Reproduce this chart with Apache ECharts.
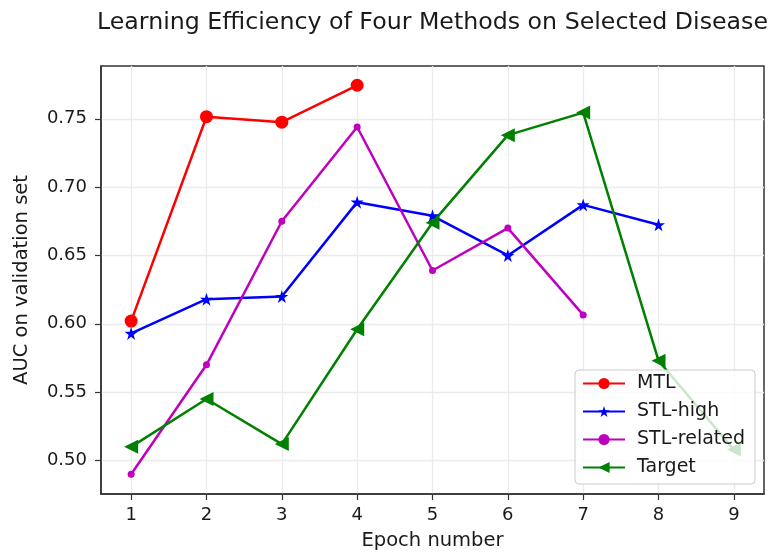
<!DOCTYPE html>
<html>
<head>
<meta charset="utf-8">
<script src="https://cdn.jsdelivr.net/npm/echarts@6/dist/echarts.min.js"></script>
<style>
  html, body { margin: 0; padding: 0; background: #fff; }
  #chart { width: 770px; height: 556px; }
</style>
</head>
<body>
<div id="chart"></div>
<script>
// data
var epochs = [1, 2, 3, 4, 5, 6, 7, 8, 9];
var mtl = [0.602, 0.7515, 0.7475, 0.7745];
var stlHigh = [0.593, 0.618, 0.620, 0.689, 0.679, 0.650, 0.687, 0.6725];
var stlRelated = [0.490, 0.570, 0.675, 0.744, 0.639, 0.670, 0.6065];
var target = [0.510, 0.545, 0.512, 0.596, 0.674, 0.738, 0.7545, 0.573, 0.508];
var xTicks = [1, 2, 3, 4, 5, 6, 7, 8, 9];
var yTicks = [0.50, 0.55, 0.60, 0.65, 0.70, 0.75];

var starPath = 'path://M50 0 L61.2 34.5 L97.6 34.5 L68.2 55.9 L79.4 90.5 L50 69.1 L20.6 90.5 L31.8 55.9 L2.4 34.5 L38.8 34.5 Z';
var font = 'DejaVu Sans';

function pairs(vals) {
  return vals.map(function (v, i) { return [epochs[i], v]; });
}

function lineSeries(name, vals, color, symbol, size, rotate) {
  return {
    name: name,
    type: 'line',
    data: pairs(vals),
    symbol: symbol,
    symbolSize: size,
    symbolRotate: rotate || 0,
    showAllSymbol: true,
    lineStyle: { color: color, width: 2.5 },
    itemStyle: { color: color },
    emphasis: { disabled: true },
    animation: false
  };
}

var chart = echarts.init(document.getElementById('chart'));
chart.setOption({
  backgroundColor: '#fff',
  animation: false,
  title: {
    text: 'Learning Efficiency of Four Methods on Selected Disease',
    left: 92,
    top: 6,
    textStyle: { fontFamily: font, fontSize: 23.7, fontWeight: 'normal', color: '#1a1a1a' }
  },
  grid: {
    left: 101, right: 6, top: 66, bottom: 60,
    show: true, borderColor: '#333', borderWidth: 1.5, backgroundColor: '#fff'
  },
  legend: {
    right: 15,
    bottom: 72,
    orient: 'vertical',
    itemGap: 9,
    itemWidth: 42,
    itemHeight: 14,
    padding: [4, 10, 7, 7],
    backgroundColor: 'rgba(255,255,255,0.8)',
    borderColor: '#ccc',
    borderWidth: 1,
    borderRadius: 4,
    textStyle: { fontFamily: font, fontSize: 19, color: '#1a1a1a', padding: [0, 0, 0, 7] },
    data: ['MTL', 'STL-high', 'STL-related', 'Target']
  },
  xAxis: {
    type: 'value',
    min: 0.6,
    max: 9.4,
    name: 'Epoch number',
    nameLocation: 'middle',
    nameGap: 37,
    nameTextStyle: { fontFamily: font, fontSize: 19.5, color: '#1a1a1a' },
    axisLine: { show: true, lineStyle: { color: '#333', width: 1.5 } },
    axisTick: { show: true, inside: false, length: 6, customValues: xTicks, lineStyle: { color: '#333', width: 1.2 } },
    axisLabel: { customValues: xTicks, fontFamily: font, fontSize: 18, color: '#1a1a1a', margin: 12 },
    splitLine: { show: true, lineStyle: { color: '#ebebeb', width: 1.3 } }
  },
  yAxis: {
    type: 'value',
    min: 0.4755,
    max: 0.7886,
    name: 'AUC on validation set',
    nameLocation: 'middle',
    nameGap: 69,
    nameTextStyle: { fontFamily: font, fontSize: 19.5, color: '#1a1a1a' },
    axisLine: { show: true, lineStyle: { color: '#333', width: 1.5 } },
    axisTick: { show: true, inside: false, length: 6, customValues: yTicks, lineStyle: { color: '#333', width: 1.2 } },
    axisLabel: {
      customValues: yTicks,
      fontFamily: font, fontSize: 18, color: '#1a1a1a', margin: 14,
      formatter: function (v) { return v.toFixed(2); }
    },
    splitLine: { show: true, lineStyle: { color: '#ebebeb', width: 1.3 } }
  },
  series: [
    lineSeries('MTL', mtl, '#ff0000', 'circle', 13),
    lineSeries('STL-high', stlHigh, '#0000ff', starPath, 13),
    lineSeries('STL-related', stlRelated, '#bf00bf', 'circle', 7),
    lineSeries('Target', target, '#008000', 'triangle', 14, 90)
  ]
});
</script>
</body>
</html>
